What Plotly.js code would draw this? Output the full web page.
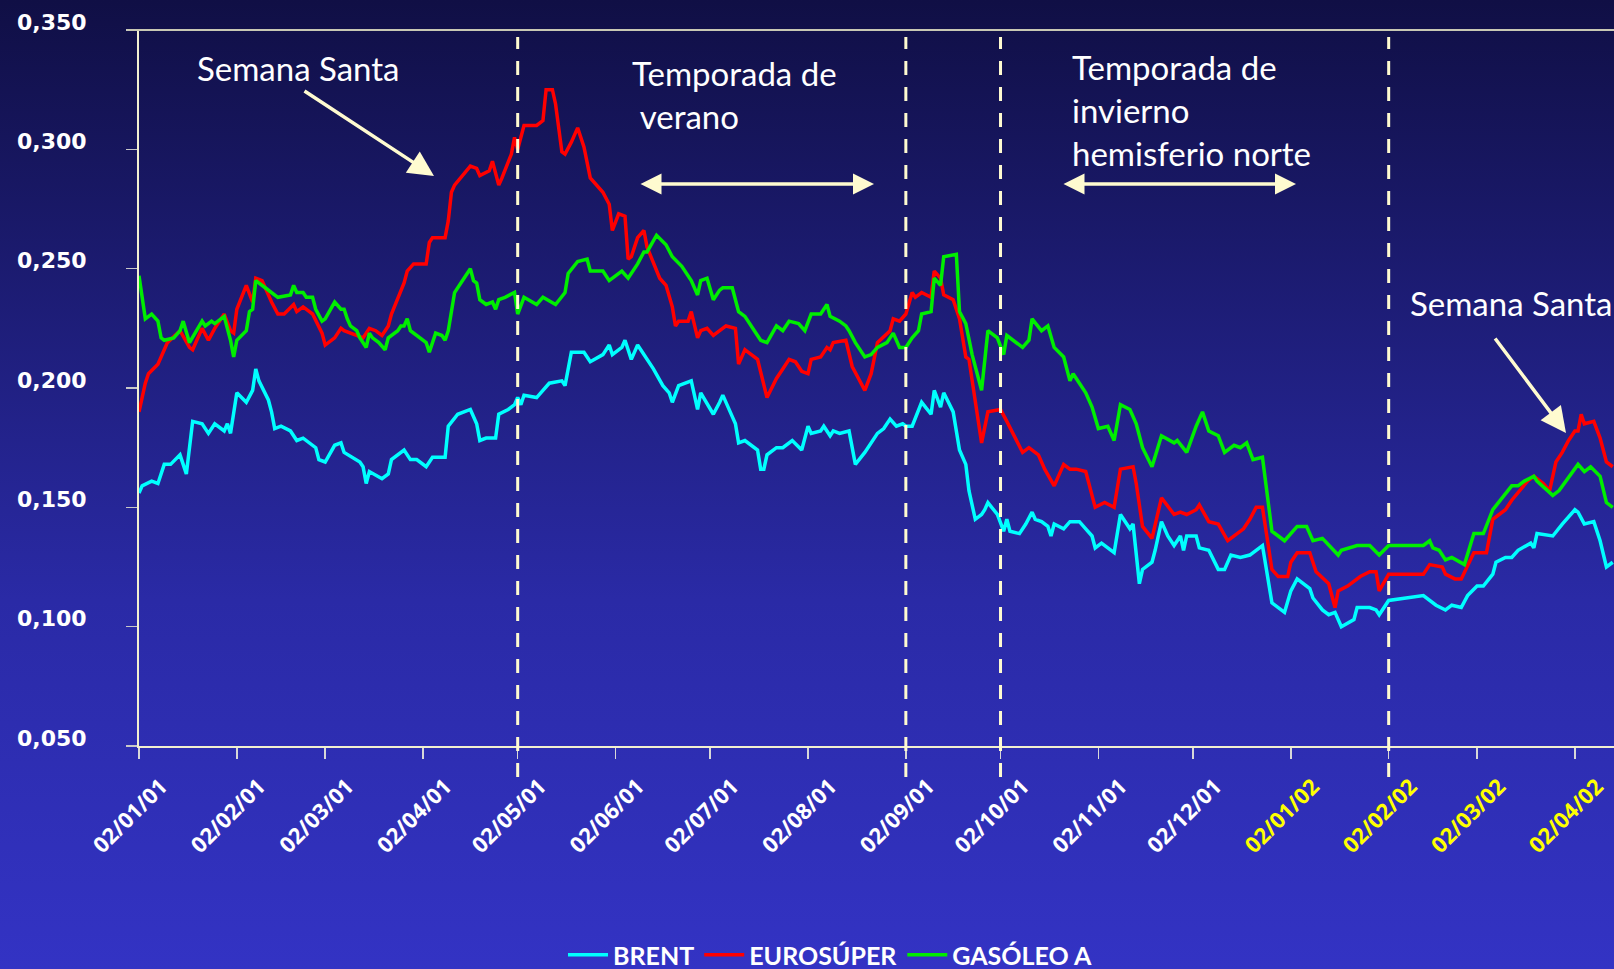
<!DOCTYPE html>
<html>
<head>
<meta charset="utf-8">
<script src="https://cdn.plot.ly/plotly-3.0.1.min.js"></script>
<style>
html,body{margin:0;padding:0;}
body{width:1614px;height:969px;overflow:hidden;background:linear-gradient(to bottom,#100f45 0%,#2a2aa6 62%,#3333c4 100%);}
#chart{width:1614px;height:969px;}
</style>
</head>
<body>
<div id="chart"></div>
<script>
// ---------- DATA ----------
const tickDates = ['2001-01-02','2001-02-02','2001-03-02','2001-04-02','2001-05-02','2001-06-02','2001-07-02','2001-08-02','2001-09-02','2001-10-02','2001-11-02','2001-12-02','2002-01-02','2002-02-02','2002-03-02','2002-04-02'];
const tickLabels = ['02/01/01','02/02/01','02/03/01','02/04/01','02/05/01','02/06/01','02/07/01','02/08/01','02/09/01','02/10/01','02/11/01','02/12/01','02/01/02','02/02/02','02/03/02','02/04/02'];
const yTicks = [0.05,0.10,0.15,0.20,0.25,0.30,0.35];
const seriesNames = ['BRENT','EUROSÚPER','GASÓLEO A'];
const markerDates = ['2001-05-02','2001-09-02','2001-10-02','2002-02-02'];

const brentDates = [
'2001-01-02','2001-01-03','2001-01-06','2001-01-08','2001-01-10','2001-01-12','2001-01-15','2001-01-17','2001-01-19','2001-01-22','2001-01-24','2001-01-26','2001-01-29','2001-01-30','2001-01-31',
'2001-02-02','2001-02-05','2001-02-07','2001-02-08','2001-02-09','2001-02-12','2001-02-13','2001-02-14','2001-02-16','2001-02-19','2001-02-21','2001-02-23','2001-02-27','2001-02-28',
'2001-03-02','2001-03-05','2001-03-07','2001-03-08','2001-03-13','2001-03-14','2001-03-15','2001-03-16','2001-03-20','2001-03-22','2001-03-23','2001-03-27','2001-03-29','2001-03-31',
'2001-04-03','2001-04-05','2001-04-09','2001-04-10','2001-04-13','2001-04-17','2001-04-19','2001-04-20','2001-04-22','2001-04-25','2001-04-26','2001-04-29',
'2001-05-01','2001-05-02','2001-05-03','2001-05-04','2001-05-08','2001-05-10','2001-05-12','2001-05-16','2001-05-17','2001-05-19','2001-05-23','2001-05-25','2001-05-29','2001-05-31',
'2001-06-01','2001-06-04','2001-06-05','2001-06-07','2001-06-09','2001-06-10','2001-06-12','2001-06-14','2001-06-17','2001-06-19','2001-06-20','2001-06-22','2001-06-26','2001-06-28','2001-06-29',
'2001-07-03','2001-07-05','2001-07-06','2001-07-09','2001-07-10','2001-07-11','2001-07-13','2001-07-17','2001-07-18','2001-07-19','2001-07-20','2001-07-23','2001-07-25','2001-07-28','2001-07-31',
'2001-08-02','2001-08-03','2001-08-06','2001-08-07','2001-08-09','2001-08-10','2001-08-12','2001-08-15','2001-08-16','2001-08-17','2001-08-20','2001-08-22','2001-08-24','2001-08-26','2001-08-28','2001-08-30',
'2001-09-01','2001-09-02','2001-09-04','2001-09-07','2001-09-10','2001-09-11','2001-09-13','2001-09-14','2001-09-17','2001-09-19','2001-09-21','2001-09-22','2001-09-24','2001-09-26','2001-09-27','2001-09-28',
'2001-10-01','2001-10-03','2001-10-04','2001-10-05','2001-10-08','2001-10-10','2001-10-12','2001-10-13','2001-10-15','2001-10-17','2001-10-18','2001-10-19','2001-10-22','2001-10-24','2001-10-27','2001-10-29','2001-10-31',
'2001-11-01','2001-11-03','2001-11-07','2001-11-09','2001-11-12','2001-11-13','2001-11-15','2001-11-16','2001-11-19','2001-11-20','2001-11-22','2001-11-24','2001-11-26','2001-11-28','2001-11-29','2001-11-30',
'2001-12-03','2001-12-04','2001-12-07','2001-12-10','2001-12-12','2001-12-14','2001-12-17','2001-12-20','2001-12-24','2001-12-27','2001-12-31',
'2002-01-02','2002-01-04','2002-01-08','2002-01-09','2002-01-12','2002-01-14','2002-01-16','2002-01-18','2002-01-22','2002-01-23','2002-01-27','2002-01-29','2002-01-30',
'2002-02-02','2002-02-13','2002-02-17','2002-02-20','2002-02-22','2002-02-25','2002-02-27',
'2002-03-02','2002-03-04','2002-03-07','2002-03-08','2002-03-11','2002-03-13','2002-03-15','2002-03-19','2002-03-20','2002-03-21','2002-03-26','2002-03-29',
'2002-04-02','2002-04-03','2002-04-05','2002-04-08','2002-04-10','2002-04-12','2002-04-14'];
const brentValues = [
0.156,0.159,0.161,0.160,0.168,0.168,0.172,0.164,0.186,0.185,0.181,0.185,0.182,0.185,0.181,
0.198,0.194,0.199,0.208,0.203,0.195,0.190,0.183,0.184,0.182,0.178,0.179,0.175,0.170,
0.169,0.176,0.177,0.173,0.169,0.167,0.160,0.165,0.162,0.164,0.170,0.174,0.170,0.170,
0.167,0.171,0.171,0.184,0.189,0.191,0.185,0.178,0.179,0.179,0.189,0.191,
0.193,0.196,0.193,0.197,0.196,0.199,0.202,0.203,0.201,0.215,0.215,0.211,0.214,0.218,
0.214,0.217,0.220,0.212,0.218,0.216,0.212,0.208,0.201,0.198,0.194,0.201,0.203,0.191,0.198,
0.189,0.194,0.197,0.188,0.185,0.177,0.178,0.174,0.166,0.166,0.172,0.175,0.175,0.178,0.174,
0.184,0.181,0.182,0.184,0.180,0.182,0.181,0.182,0.175,0.168,0.173,0.177,0.181,0.183,0.187,0.184,
0.185,0.184,0.184,0.194,0.189,0.199,0.192,0.198,0.190,0.174,0.168,0.157,0.145,0.147,0.149,0.152,
0.147,0.140,0.145,0.140,0.139,0.143,0.148,0.145,0.144,0.142,0.138,0.143,0.141,0.144,0.144,0.141,0.138,
0.133,0.135,0.131,0.147,0.141,0.143,0.118,0.124,0.127,0.132,0.144,0.138,0.134,0.138,0.132,0.138,
0.138,0.133,0.132,0.124,0.124,0.130,0.129,0.130,0.134,0.110,0.106,
0.115,0.120,0.116,0.112,0.107,0.105,0.106,0.100,0.103,0.108,0.108,0.107,0.105,
0.111,0.113,0.109,0.107,0.109,0.108,0.113,
0.117,0.117,0.122,0.127,0.129,0.129,0.132,0.135,0.133,0.139,0.138,0.143,
0.149,0.148,0.143,0.144,0.136,0.125,0.127];

const euroDates = [
'2001-01-02','2001-01-04','2001-01-05','2001-01-08','2001-01-09','2001-01-11','2001-01-15','2001-01-18','2001-01-19','2001-01-22','2001-01-24','2001-01-26','2001-01-29','2001-01-31',
'2001-02-01','2001-02-02','2001-02-05','2001-02-07','2001-02-08','2001-02-10','2001-02-13','2001-02-15','2001-02-17','2001-02-20','2001-02-21','2001-02-23','2001-02-25','2001-02-26',
'2001-03-01','2001-03-02','2001-03-05','2001-03-07','2001-03-08','2001-03-14','2001-03-16','2001-03-18','2001-03-20','2001-03-22','2001-03-23','2001-03-26','2001-03-27','2001-03-28','2001-03-30',
'2001-04-03','2001-04-04','2001-04-05','2001-04-09','2001-04-10','2001-04-11','2001-04-12','2001-04-17','2001-04-19','2001-04-20','2001-04-23','2001-04-24','2001-04-26','2001-04-27','2001-04-30',
'2001-05-01','2001-05-02','2001-05-04','2001-05-08','2001-05-10','2001-05-11','2001-05-13','2001-05-14','2001-05-16','2001-05-17','2001-05-19','2001-05-21','2001-05-23','2001-05-25','2001-05-29','2001-05-31',
'2001-06-01','2001-06-03','2001-06-05','2001-06-06','2001-06-07','2001-06-09','2001-06-11','2001-06-12','2001-06-14','2001-06-16','2001-06-18','2001-06-20','2001-06-21','2001-06-22','2001-06-25','2001-06-26','2001-06-28','2001-06-29',
'2001-07-01','2001-07-03','2001-07-07','2001-07-10','2001-07-11','2001-07-13','2001-07-14','2001-07-17','2001-07-20','2001-07-23','2001-07-25','2001-07-27','2001-07-29','2001-07-31',
'2001-08-02','2001-08-03','2001-08-06','2001-08-08','2001-08-09','2001-08-10','2001-08-14','2001-08-16','2001-08-18','2001-08-20','2001-08-22','2001-08-23','2001-08-24','2001-08-28','2001-08-29','2001-08-31',
'2001-09-02','2001-09-04','2001-09-05','2001-09-07','2001-09-10','2001-09-11','2001-09-13','2001-09-14','2001-09-17','2001-09-19','2001-09-21','2001-09-22','2001-09-24','2001-09-26','2001-09-28',
'2001-10-02','2001-10-04','2001-10-06','2001-10-09','2001-10-11','2001-10-14','2001-10-16','2001-10-19','2001-10-22','2001-10-24','2001-10-26','2001-10-29',
'2001-11-01','2001-11-04','2001-11-07','2001-11-09','2001-11-13','2001-11-14','2001-11-16','2001-11-19','2001-11-22','2001-11-26','2001-11-28','2001-11-30',
'2001-12-03','2001-12-04','2001-12-07','2001-12-10','2001-12-13','2001-12-18','2001-12-20','2001-12-22','2001-12-24','2001-12-27','2001-12-29',
'2002-01-01','2002-01-02','2002-01-04','2002-01-08','2002-01-10','2002-01-14','2002-01-16','2002-01-17','2002-01-20','2002-01-24','2002-01-27','2002-01-29','2002-01-30',
'2002-02-02','2002-02-13','2002-02-15','2002-02-19','2002-02-20','2002-02-23','2002-02-25',
'2002-03-01','2002-03-05','2002-03-07','2002-03-11','2002-03-13','2002-03-18','2002-03-20','2002-03-23','2002-03-25','2002-03-27','2002-03-29','2002-03-31',
'2002-04-02','2002-04-03','2002-04-04','2002-04-05','2002-04-08','2002-04-10','2002-04-12','2002-04-14'];
const euroValues = [
0.190,0.202,0.206,0.210,0.213,0.219,0.224,0.217,0.216,0.225,0.220,0.225,0.231,0.224,
0.223,0.233,0.243,0.236,0.246,0.245,0.236,0.231,0.231,0.235,0.232,0.234,0.232,0.231,
0.223,0.218,0.221,0.225,0.224,0.221,0.225,0.224,0.222,0.226,0.231,0.241,0.244,0.249,0.252,
0.252,0.261,0.263,0.263,0.270,0.282,0.285,0.293,0.292,0.289,0.291,0.295,0.285,0.288,0.298,
0.305,0.300,0.310,0.310,0.312,0.325,0.325,0.319,0.299,0.298,0.303,0.309,0.301,0.288,0.282,0.277,
0.266,0.273,0.272,0.254,0.255,0.263,0.266,0.259,0.252,0.246,0.243,0.234,0.226,0.228,0.228,0.232,0.221,0.224,
0.225,0.222,0.226,0.225,0.210,0.216,0.215,0.212,0.196,0.204,0.208,0.212,0.211,0.207,
0.206,0.212,0.213,0.217,0.216,0.219,0.220,0.209,0.204,0.199,0.206,0.213,0.219,0.224,0.229,0.228,
0.231,0.240,0.238,0.240,0.238,0.249,0.246,0.239,0.237,0.229,0.213,0.212,0.195,0.177,0.190,
0.191,0.186,0.181,0.173,0.175,0.172,0.166,0.159,0.168,0.166,0.166,0.165,
0.150,0.152,0.150,0.166,0.167,0.160,0.142,0.137,0.154,0.147,0.148,0.147,
0.149,0.151,0.144,0.143,0.136,0.141,0.145,0.150,0.150,0.124,0.121,
0.121,0.127,0.131,0.131,0.123,0.118,0.108,0.115,0.117,0.121,0.123,0.123,0.115,
0.122,0.122,0.126,0.125,0.122,0.120,0.120,
0.131,0.131,0.145,0.149,0.153,0.161,0.163,0.160,0.157,0.169,0.173,0.178,
0.182,0.182,0.189,0.185,0.186,0.179,0.169,0.167];

const gasoDates = [
'2001-01-02','2001-01-03','2001-01-04','2001-01-06','2001-01-08','2001-01-09','2001-01-10','2001-01-13','2001-01-15','2001-01-16','2001-01-18','2001-01-22','2001-01-23','2001-01-25','2001-01-26','2001-01-29','2001-01-31',
'2001-02-01','2001-02-02','2001-02-05','2001-02-06','2001-02-07','2001-02-08','2001-02-11','2001-02-13','2001-02-15','2001-02-19','2001-02-20','2001-02-21','2001-02-23','2001-02-24','2001-02-26','2001-02-27',
'2001-03-01','2001-03-02','2001-03-05','2001-03-07','2001-03-08','2001-03-09','2001-03-10','2001-03-12','2001-03-13','2001-03-15','2001-03-16','2001-03-17','2001-03-19','2001-03-21','2001-03-22','2001-03-25','2001-03-26','2001-03-27','2001-03-28','2001-03-29','2001-03-30',
'2001-04-01','2001-04-03','2001-04-04','2001-04-06','2001-04-08','2001-04-09','2001-04-10','2001-04-12','2001-04-14','2001-04-17','2001-04-18','2001-04-19','2001-04-20','2001-04-22','2001-04-24','2001-04-25','2001-04-26','2001-04-28',
'2001-05-01','2001-05-02','2001-05-04','2001-05-08','2001-05-10','2001-05-14','2001-05-17','2001-05-18','2001-05-21','2001-05-24','2001-05-25','2001-05-29','2001-05-31',
'2001-06-04','2001-06-06','2001-06-09','2001-06-11','2001-06-12','2001-06-15','2001-06-18','2001-06-20','2001-06-22','2001-06-23','2001-06-26','2001-06-28','2001-06-29',
'2001-07-01','2001-07-03','2001-07-05','2001-07-06','2001-07-09','2001-07-11','2001-07-13','2001-07-16','2001-07-18','2001-07-20','2001-07-23','2001-07-25','2001-07-27','2001-07-30',
'2001-08-01','2001-08-03','2001-08-06','2001-08-08','2001-08-09','2001-08-12','2001-08-14','2001-08-15','2001-08-17','2001-08-20','2001-08-22','2001-08-24','2001-08-27','2001-08-29','2001-08-31',
'2001-09-02','2001-09-04','2001-09-06','2001-09-07','2001-09-10','2001-09-11','2001-09-13','2001-09-14','2001-09-18','2001-09-19','2001-09-21','2001-09-23','2001-09-26','2001-09-28',
'2001-10-01','2001-10-03','2001-10-04','2001-10-09','2001-10-11','2001-10-12','2001-10-15','2001-10-17','2001-10-19','2001-10-22','2001-10-24','2001-10-25','2001-10-27','2001-10-29','2001-10-31',
'2001-11-02','2001-11-05','2001-11-07','2001-11-09','2001-11-12','2001-11-14','2001-11-16','2001-11-19','2001-11-22','2001-11-26','2001-11-27','2001-11-30',
'2001-12-03','2001-12-05','2001-12-07','2001-12-10','2001-12-12','2001-12-15','2001-12-17','2001-12-19','2001-12-21','2001-12-24','2001-12-27','2001-12-31',
'2002-01-04','2002-01-07','2002-01-09','2002-01-12','2002-01-17','2002-01-18','2002-01-23','2002-01-27','2002-01-30',
'2002-02-02','2002-02-13','2002-02-15','2002-02-16','2002-02-18','2002-02-20','2002-02-22','2002-02-26',
'2002-03-01','2002-03-04','2002-03-07','2002-03-10','2002-03-13','2002-03-15','2002-03-17','2002-03-20','2002-03-21','2002-03-26','2002-03-28',
'2002-04-03','2002-04-05','2002-04-07','2002-04-10','2002-04-12','2002-04-14'];
const gasoValues = [
0.247,0.237,0.229,0.231,0.228,0.221,0.220,0.221,0.224,0.228,0.219,0.228,0.226,0.228,0.227,0.230,0.220,
0.213,0.220,0.224,0.232,0.233,0.245,0.242,0.240,0.238,0.239,0.243,0.240,0.240,0.238,0.238,0.233,
0.228,0.229,0.236,0.233,0.233,0.229,0.226,0.224,0.221,0.217,0.223,0.221,0.219,0.216,0.221,0.224,0.226,0.226,0.229,0.224,0.223,
0.221,0.219,0.215,0.223,0.222,0.220,0.224,0.240,0.244,0.250,0.245,0.244,0.237,0.235,0.236,0.233,0.237,0.238,
0.240,0.231,0.238,0.235,0.238,0.235,0.240,0.248,0.253,0.254,0.249,0.249,0.245,
0.249,0.246,0.252,0.257,0.257,0.264,0.260,0.255,0.252,0.251,0.245,0.239,0.245,
0.246,0.237,0.241,0.242,0.242,0.232,0.230,0.224,0.220,0.219,0.226,0.224,0.228,0.227,
0.224,0.231,0.231,0.235,0.230,0.228,0.226,0.224,0.219,0.213,0.214,0.217,0.219,0.223,0.217,
0.217,0.221,0.224,0.231,0.232,0.246,0.243,0.255,0.256,0.232,0.227,0.214,0.199,0.224,
0.221,0.214,0.222,0.217,0.220,0.229,0.224,0.226,0.217,0.213,0.203,0.206,0.202,0.198,0.192,
0.183,0.184,0.178,0.193,0.191,0.185,0.175,0.167,0.180,0.177,0.178,0.173,
0.184,0.190,0.182,0.180,0.173,0.176,0.175,0.177,0.170,0.171,0.140,0.136,
0.142,0.142,0.136,0.137,0.130,0.132,0.134,0.134,0.130,
0.134,0.134,0.136,0.133,0.132,0.128,0.129,0.126,
0.139,0.139,0.149,0.154,0.159,0.159,0.161,0.163,0.161,0.155,0.157,
0.168,0.165,0.167,0.163,0.152,0.150];

// ---------- LAYOUT HELPERS (pixel -> paper) ----------
const W = 1614, H = 969, ML = 139, MT = 30, MB = 223;
const PW = W - ML, PH = H - MT - MB;
const px = x => (x - ML) / PW;
const py = y => (H - MB - y) / PH;

const cream = '#FFFBD0';
const annFont = {family: 'Comic Sans MS, Lato, sans-serif', size: 33, color: '#FFFFFF'};

const traces = [
  {x: brentDates, y: brentValues, name: seriesNames[0], type: 'scatter', mode: 'lines', line: {color: '#00FFFF', width: 3.5}},
  {x: euroDates, y: euroValues, name: seriesNames[1], type: 'scatter', mode: 'lines', line: {color: '#FF0000', width: 3.5}},
  {x: gasoDates, y: gasoValues, name: seriesNames[2], type: 'scatter', mode: 'lines', line: {color: '#00EE00', width: 3.5}}
];

const tickText = tickLabels.map(t => t.endsWith('/02') ? '<span style="color:#FFFF00">' + t + '</span>' : t);

const shapes = markerDates.map(d => ({
  type: 'line', xref: 'x', yref: 'paper', x0: d, x1: d, y0: py(777), y1: py(37),
  line: {color: cream, width: 3, dash: '14px,12px'}, layer: 'above'
}));
shapes.push({type: 'line', xref: 'paper', yref: 'paper', x0: px(127), x1: 1, y0: 1, y1: 1,
  line: {color: '#C8C8B4', width: 2}});

const textAnn = (txt, xl, yc) => ({
  text: txt, xref: 'paper', yref: 'paper', x: px(xl), y: py(yc),
  xanchor: 'left', yanchor: 'middle', align: 'left', showarrow: false, font: annFont
});
const arrowAnn = (hx, hy, tx, ty, both, scale) => ({
  text: '', xref: 'paper', yref: 'paper', x: px(hx), y: py(hy),
  ax: tx - hx, ay: ty - hy, axref: 'pixel', ayref: 'pixel',
  showarrow: true, arrowhead: 2, arrowsize: scale, arrowwidth: 3.5, arrowcolor: cream,
  arrowside: both ? 'end+start' : 'end', startarrowhead: 2, startarrowsize: scale, standoff: 0, startstandoff: 0
});

const annotations = [
  textAnn('Semana Santa', 195, 68),
  textAnn('Temporada de<br> verano', 630, 94),
  textAnn('Temporada de<br>invierno<br>hemisferio norte', 1070, 110),
  textAnn('Semana Santa', 1408, 303),
  arrowAnn(434, 176, 303, 90, false, 1.45),
  arrowAnn(874, 184, 639, 184, true, 1.2),
  arrowAnn(1296, 184, 1062, 184, true, 1.2),
  arrowAnn(1566, 433, 1494, 337, false, 1.45)
];

const layout = {
  width: W, height: H,
  margin: {l: ML, r: 0, t: MT, b: MB, pad: 0, autoexpand: false},
  paper_bgcolor: 'rgba(0,0,0,0)', plot_bgcolor: 'rgba(0,0,0,0)',
  separators: ',.',
  showlegend: true,
  legend: {orientation: 'h', x: px(830), xanchor: 'center', y: py(955), yanchor: 'middle',
    font: {family: 'Comic Sans MS, Lato, sans-serif', size: 25, color: '#FFFFFF', weight: 'bold'},
    bgcolor: 'rgba(0,0,0,0)', traceorder: 'normal', itemwidth: 40},
  xaxis: {
    type: 'date', range: ['2001-01-02', '2002-04-14 09:36'],
    tickmode: 'array', tickvals: tickDates, ticktext: tickText, tickangle: -45,
    tickfont: {family: 'Noto Sans, sans-serif', size: 22, color: '#FFFFFF', weight: 'bold', stretch: 'extra-condensed'},
    ticks: 'outside', ticklen: 11, tickwidth: 1.5, tickcolor: '#D8D8D8',
    ticklabelshift: 22, ticklabelstandoff: 6,
    showline: true, linecolor: '#F2F0D0', linewidth: 2,
    showgrid: false, zeroline: false, automargin: false, fixedrange: true
  },
  yaxis: {
    range: [0.05, 0.35], tickmode: 'array', tickvals: yTicks, tickformat: '.3f',
    tickfont: {family: 'DejaVu Sans, sans-serif', size: 22, color: '#FFFFFF', weight: 'bold'},
    ticks: 'outside', ticklen: 11, tickwidth: 1.5, tickcolor: '#C8C8C8',
    ticklabelshift: -8, ticklabelstandoff: 35,
    showline: true, linecolor: '#F2F0D0', linewidth: 2,
    showgrid: false, zeroline: false, automargin: false, fixedrange: true
  },
  shapes: shapes,
  annotations: annotations
};

Plotly.newPlot('chart', traces, layout, {displayModeBar: false, staticPlot: true});
</script>
</body>
</html>
